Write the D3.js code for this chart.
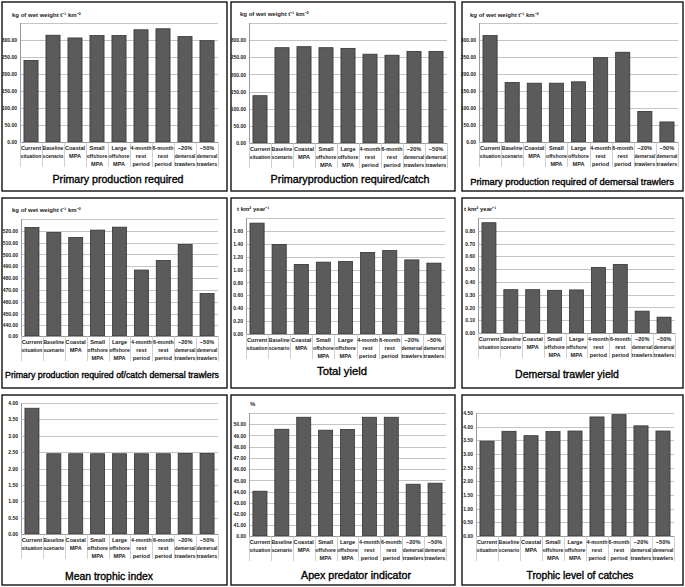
<!DOCTYPE html>
<html><head><meta charset="utf-8">
<script src="https://cdn.jsdelivr.net/npm/d3@7"></script>
<style>
html,body{margin:0;padding:0;background:#fff;}
svg{display:block;}
</style></head>
<body>
<script>
// ---------- DATA ----------
const categories = [
  ["Current","situation"],["Baseline","scenario"],["Coastal","MPA"],
  ["Small","offshore","MPA"],["Large","offshore","MPA"],["4-month","rest","period"],
  ["6-month","rest","period"],["\u221220%","demersal","trawlers"],["\u221250%","demersal","trawlers"]
];
const ppRequired        = [240, 314, 306, 313, 313, 330, 333, 310, 298];
const ppRequiredCatch   = [138, 278, 281, 278, 276, 259, 256, 267, 267];
const ppDemersal        = [313, 175, 173, 173, 177, 248, 264, 90, 59];
const ppCatchDemersal   = [522.8, 518.6, 514.4, 520.6, 523.1, 486.8, 494.9, 508.5, 467.0];
const totalYield        = [1.72, 1.39, 1.08, 1.115, 1.125, 1.265, 1.295, 1.15, 1.10];
const demersalYield     = [0.863, 0.339, 0.339, 0.334, 0.337, 0.513, 0.536, 0.171, 0.124];
const meanTrophicIndex  = [3.84, 2.45, 2.45, 2.45, 2.45, 2.45, 2.45, 2.46, 2.46];
const apexPredator      = [44.04, 49.55, 50.62, 49.47, 49.53, 50.62, 50.62, 44.66, 44.75];
const trophicCatches    = [3.47, 3.83, 3.67, 3.82, 3.84, 4.355, 4.44, 4.03, 3.84];

const ticksPP      = [0, 50, 100, 150, 200, 250, 300];
const ticksPPCatchDem = [0, 440, 450, 460, 470, 480, 490, 500, 510, 520];
const ticksYield   = [0, 0.2, 0.4, 0.6, 0.8, 1.0, 1.2, 1.4, 1.6];
const ticksDemYield= [0, 0.1, 0.2, 0.3, 0.4, 0.5, 0.6, 0.7, 0.8];
const ticksMTI     = [0, 0.5, 1.0, 1.5, 2.0, 2.5, 3.0, 3.5, 4.0];
const ticksApex    = [0, 41, 42, 43, 44, 45, 46, 47, 48, 49, 50];
const ticksTL      = [0, 0.5, 1.0, 1.5, 2.0, 2.5, 3.0, 3.5, 4.0, 4.5];

const titles = ["Primary production required","Primaryproduction required/catch",
  "Primary production required of demersal trawlers","Primary production required of/catch demersal trawlers",
  "Total yield","Demersal trawler yield","Mean trophic index","Apex predator indicator","Trophic level of catches"];
const yLabels = ["kg of wet weight t\u207B\u00B9 km\u207B\u00B2","kg of wet weight t\u207B\u00B9 km\u207B\u00B2",
  "kg of wet weight t\u207B\u00B9 km\u207B\u00B2","kg of wet weight t\u207B\u00B9 km\u207B\u00B2",
  "t km\u00B2 year\u207B\u00B9","t km\u00B2 year\u207B\u00B9","","%",""];

// ---------- LAYOUT ----------
const W = 685, H = 587;
const cols = [[2,227],[231,455],[462,683]];
const rows = [[2,191],[198,388],[395,585]];
const panels = [
  {vals:ppRequired, ticks:ticksPP, max:350, brk:null, plot:[20,23,218,142], ylab:[12,15], tb:183, tw:131, tc:118},
  {vals:ppRequiredCatch, ticks:ticksPP, max:350, brk:null, plot:[249,23,447,143], ylab:[240,14], tb:183, tw:159, tc:350},
  {vals:ppDemersal, ticks:ticksPP, max:350, brk:null, plot:[479,23,678,142], ylab:[470,15], tb:185, tw:204, tc:572},
  {vals:ppCatchDemersal, ticks:ticksPPCatchDem, max:530, brk:[440,431], plot:[21,219,218,336], ylab:[12,210], tb:378, tw:214, tc:112},
  {vals:totalYield, ticks:ticksYield, max:1.8, brk:null, plot:[246,218,445,334], ylab:[237,209], tb:375, tw:50, tc:342},
  {vals:demersalYield, ticks:ticksDemYield, max:0.9, brk:null, plot:[478,218,675,333], ylab:[464,209], tb:378, tw:104, tc:567},
  {vals:meanTrophicIndex, ticks:ticksMTI, max:4.0, brk:null, plot:[21,403,218,534], ylab:null, tb:580, tw:88, tc:109},
  {vals:apexPredator, ticks:ticksApex, max:51, brk:[41,40.05], plot:[249,413,446,536], ylab:[250,404], tb:579, tw:110, tc:356},
  {vals:trophicCatches, ticks:ticksTL, max:4.5, brk:null, plot:[476,413,674,536], ylab:null, tb:579, tw:107, tc:580}
];

const svg = d3.select("body").append("svg").attr("width", W).attr("height", H);
svg.append("rect").attr("width", W).attr("height", H).attr("fill", "#fff");

const fmt = d3.format(".2f");
const smallFont = "'Liberation Sans Narrow','Liberation Sans',Arial,sans-serif";

panels.forEach((p, i) => {
  const c = cols[i % 3], r = rows[Math.floor(i / 3)];
  const g = svg.append("g");
  g.append("rect").attr("x", c[0]).attr("y", r[0]).attr("width", c[1]-c[0]).attr("height", r[1]-r[0])
    .attr("fill", "#fff").attr("stroke", "#111").attr("stroke-width", 1.4);

  const [L, T, R, B] = p.plot;
  let y;
  if (p.brk) {
    const [first, lo] = p.brk;
    const yFirst = B - (B - T) * (first - lo) / (p.max - lo);
    y = d3.scaleLinear().domain([0, first, p.max]).range([B, yFirst, T]);
  } else {
    y = d3.scaleLinear().domain([0, p.max]).range([B, T]);
  }
  const x = d3.scaleBand().domain(d3.range(categories.length)).range([L, R]).paddingInner(0.36).paddingOuter(0.18);
  const xs = d3.scaleBand().domain(d3.range(categories.length)).range([L, R]);

  // gridlines
  const gridVals = p.ticks.filter(v => v > 0).concat(p.ticks.includes(p.max) ? [] : [p.max]);
  g.selectAll(".grid").data(gridVals).join("line")
    .attr("x1", L).attr("x2", R).attr("y1", d => Math.round(y(d)) + 0.5).attr("y2", d => Math.round(y(d)) + 0.5)
    .attr("stroke", "#c4c4c4").attr("stroke-width", 1);

  // y axis
  const yAxis = d3.axisLeft(y).tickValues(p.ticks).tickSize(0).tickPadding(3).tickFormat(fmt);
  const ya = g.append("g").attr("transform", `translate(${L},0)`).call(yAxis);
  ya.select(".domain").attr("stroke", "#9a9a9a").attr("d", `M0.5,${T}V${B}`);
  ya.selectAll("text").attr("font-family", smallFont).attr("font-size", 5).attr("font-weight", "bold").attr("fill", "#222");

  // bars
  g.selectAll(".bar").data(p.vals).join("rect")
    .attr("x", (d, j) => x(j)).attr("width", x.bandwidth())
    .attr("y", d => y(d)).attr("height", d => B - y(d))
    .attr("fill", "#5b5b5b").attr("stroke", "#333").attr("stroke-width", 0.8);

  // baseline
  g.append("line").attr("x1", L).attr("x2", R).attr("y1", B + 0.5).attr("y2", B + 0.5).attr("stroke", "#9a9a9a");

  // category separators
  g.selectAll(".sep").data(d3.range(categories.length + 1)).join("line")
    .attr("x1", j => Math.round(L + j * xs.step()) + 0.5).attr("x2", j => Math.round(L + j * xs.step()) + 0.5)
    .attr("y1", B).attr("y2", B + 25).attr("stroke", "#c4c4c4").attr("stroke-width", 0.8);

  // category labels
  const maxW = xs.step() - 1.2;
  categories.forEach((lines, j) => {
    const cx = xs(j) + xs.bandwidth() / 2;
    lines.forEach((ln, k) => {
      const t = g.append("text").attr("text-anchor", "middle").attr("font-family", smallFont)
        .attr("font-size", 5.6).attr("font-weight", "bold").attr("fill", "#222")
        .attr("x", cx).attr("y", B + 7.5 + k * 8).text(ln);
      const len = t.node().getComputedTextLength();
      if (len > maxW) t.attr("font-size", 5.6 * maxW / len);
    });
  });

  // y label
  if (p.ylab && yLabels[i]) {
    g.append("text").attr("x", p.ylab[0]).attr("y", p.ylab[1] + 2).attr("font-family", smallFont)
      .attr("font-size", 6).attr("font-weight", "bold").attr("fill", "#222").text(yLabels[i]);
  }

  // title
  const tt = g.append("text").attr("x", p.tc).attr("y", p.tb).attr("text-anchor", "middle")
    .attr("font-family", smallFont).attr("font-size", 15.5).attr("fill", "#000")
    .attr("stroke", "#000").attr("stroke-width", 0.35).text(titles[i]);
  const tl = tt.node().getComputedTextLength();
  const fs = Math.max(9, Math.min(17, 15.5 * p.tw / tl));
  tt.attr("font-size", fs);
  const tl2 = tt.node().getComputedTextLength();
  if (Math.abs(tl2 - p.tw) > 1) tt.attr("textLength", p.tw).attr("lengthAdjust", "spacingAndGlyphs");
});
</script>
</body></html>
